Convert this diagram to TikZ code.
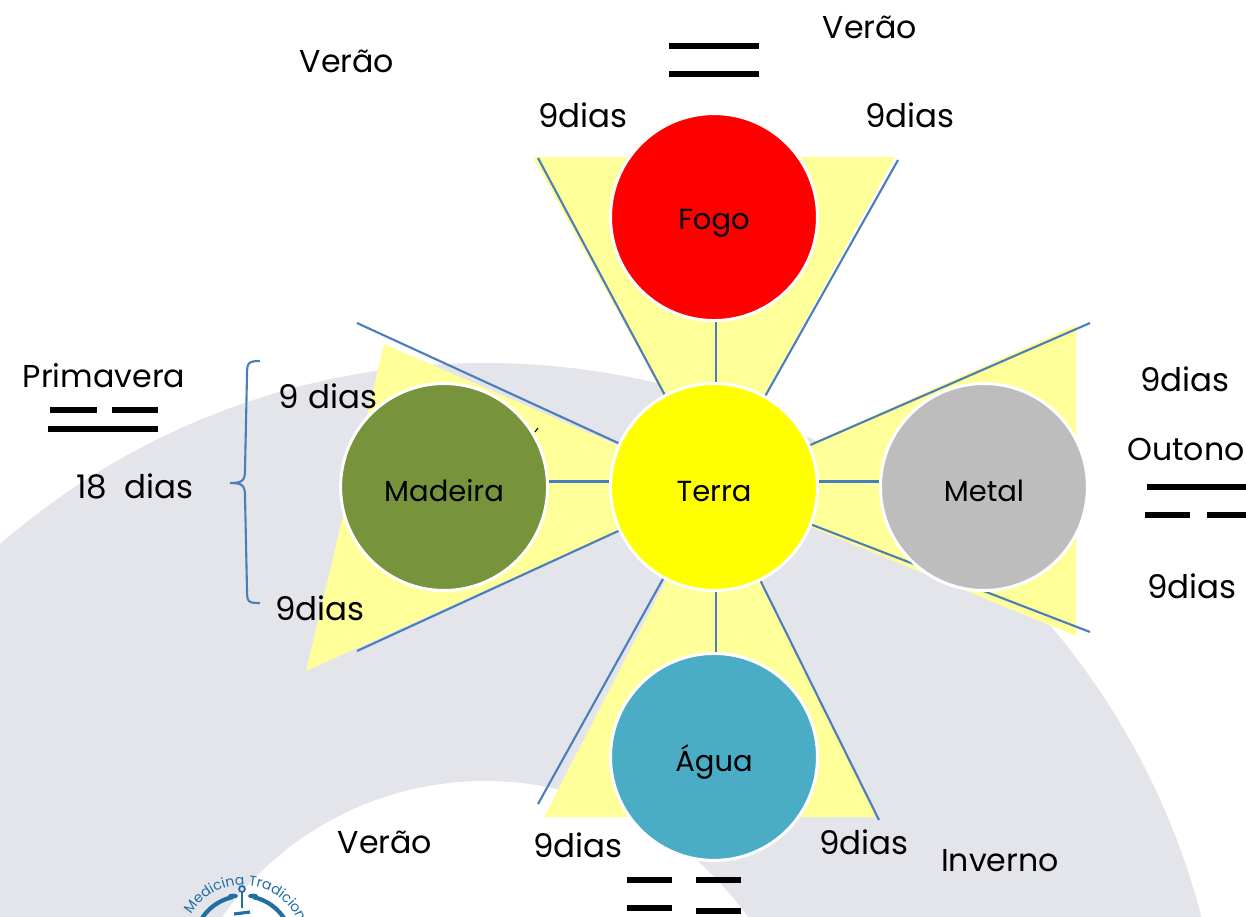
\documentclass[tikz,border=0pt]{standalone}
\usepackage{fontspec}
\setmainfont{Poppins}
\usetikzlibrary{arrows, positioning, backgrounds, decorations.text}
\definecolor{bandgrey}{HTML}{E4E5EB}
\definecolor{paleyellow}{HTML}{FFFF99}
\definecolor{earthyellow}{HTML}{FFFF00}
\definecolor{firered}{HTML}{FF0000}
\definecolor{spokeblue}{HTML}{4A7EBB}
\definecolor{logoblue}{HTML}{1F6FA3}
\definecolor{woodgreen}{HTML}{77933C}
\definecolor{metalgrey}{HTML}{BDBDBD}
\definecolor{waterblue}{HTML}{4BACC6}
\newcommand{\elemsize}{4.14cm}
\tikzstyle{element} = [% element circle
  circle,
  minimum size=\elemsize,
  inner sep=0pt,
  text centered,
  text height=17pt,
  text depth=0pt,
  draw=white,
  line width=1.7pt,
  font=\fontsize{16.5}{16.5}\selectfont
  ]
\tikzstyle{season} = [% name of a season
  inner sep=0pt,
  text centered,
  font=\fontsize{18}{18}\selectfont
  ]
\tikzstyle{days} = [% number of days
  inner sep=0pt,
  text centered,
  font=\fontsize{18.5}{18.5}\selectfont
  ]
\tikzstyle{spoke} = [% blue line
  spokeblue,
  line width=1.2pt
  ]
\tikzstyle{bar} = [% line of a trigram
  black,
  line width=3.4pt
  ]

\begin{document}
\begin{tikzpicture}[x=0.02cm, y=0.02cm, node distance=1.2cm]
\useasboundingbox (0,0) rectangle (1246,-916);

%%% Circles
\node[element, fill=earthyellow] (terra) at (714,-487) {Terra};
\node[element, fill=firered, text height=14pt] (fogo) [above=of terra] {Fogo};
\node[element, fill=woodgreen] (madeira) [left=of terra] {Madeira};
\node[element, fill=metalgrey] (metal) [right=of terra] {Metal};
\node[element, fill=waterblue] (agua) [below=of terra] {Água};

%%% Free ends of the blue lines
\coordinate (fogoL) at (538,-158);
\coordinate (fogoR) at (898,-160);
\coordinate (madeiraT) at (357,-323);
\coordinate (madeiraB) at (357,-651);
\coordinate (metalT) at (1090,-323);
\coordinate (metalB) at (1090,-632);
\coordinate (aguaL) at (538,-804);
\coordinate (aguaR) at (879,-820);

%%% Background
\begin{scope}[on background layer]
  \clip (0,0) rectangle (1246,-916);
  \fill[bandgrey, even odd rule] (485,-1103) circle [radius=740] (485,-1103) circle [radius=322];
  \fill[paleyellow] (terra.center) -- (533,-157) -- (895,-157) -- cycle;
  \fill[paleyellow] (terra.center) -- (384,-344) -- (306,-671) -- cycle;
  \fill[paleyellow] (terra.center) -- (1076,-325) -- (1076,-636) -- cycle;
  \fill[paleyellow] (terra.center) -- (544,-817) -- (877,-817) -- cycle;
  \foreach \spokeend in {fogoL, fogoR, madeiraT, madeiraB, metalT, metalB, aguaL, aguaR}
    \draw[spoke] (terra) -- (\spokeend);
\end{scope}

%%% Short lines between the circles
\draw[spoke] (fogo.-89) -- (terra.89);
\draw[spoke] (agua.89) -- (terra.-89);
\draw[spoke] (madeira.3) -- (terra.177);
\draw[spoke] (metal.177) -- (terra.3);

%%% Labels
\node[season] (veraoA) at (347,-61) {Verão};
\node[season] (veraoB) at (870,-27) {Verão};
\node[season] (veraoC) at (385,-842) {Verão};
\node[season] (inverno) at (1000,-861) {Inverno};
\node[season] (primavera) at (104,-376) {Primavera};
\node[season] (outono) at (1186,-449) {Outono};
\node[days] (total) at (135,-486) {18\hspace{.55em}dias};
\node[days] (diasA) at (583,-115) {9dias};
\node[days] (diasB) at (910,-115) {9dias};
\node[days] (diasC) at (328,-396) {9 dias};
\node[days] (diasD) at (320,-608) {9dias};
\node[days] (diasE) at (1185,-379) {9dias};
\node[days] (diasF) at (1192,-586) {9dias};
\node[days] (diasG) at (578,-845) {9dias};
\node[days] (diasH) at (864,-842) {9dias};

%%% Trigrams
\foreach \xa/\xb/\yy in {669/759/46, 669/759/74, 50/97/410, 112/158/410, 48/158/429,
    1147/1246/487, 1145/1190/515, 1207/1246/515,
    627/672/880, 696/741/880, 627/672/908, 696/741/911}
  \draw[bar] (\xa,-\yy) -- (\xb,-\yy);

%%% Brace and tick
\draw[spoke] (260,-361) .. controls (248,-361) and (247,-363) .. (247,-375)
  -- (245,-470) .. controls (245,-481) and (242,-483) .. (230,-483)
  .. controls (242,-483) and (245,-485) .. (245,-496)
  -- (247,-590) .. controls (247,-602) and (248,-603) .. (260,-603);
\draw[black, line width=0.6pt] (535,-432) -- (538,-428);

%%% Logo
\begin{scope}
  \clip (0,0) rectangle (1246,-916);
  \path[decorate, decoration={text along path, text align=center,
    text={|\fontsize{8}{8}\selectfont\color{logoblue}|Medicina Tradicional}}]
    (243,-945) ++(170:60) arc [start angle=170, end angle=-10, radius=60];
  \draw[logoblue, line width=2.4pt] (243,-945) ++(160:49) arc [start angle=160, end angle=102, radius=49];
  \draw[logoblue, line width=2.4pt] (243,-945) ++(20:49) arc [start angle=20, end angle=78, radius=49];
  \fill[logoblue] (233,-896) ellipse [x radius=5, y radius=2.5];
  \fill[logoblue] (253,-896) ellipse [x radius=5, y radius=2.5];
  \draw[logoblue, line width=1pt] (242,-889) circle [radius=3];
  \draw[logoblue, line width=1.2pt] (242,-892) -- (242,-908);
  \draw[logoblue, line width=1.8pt] (234,-914) -- (250,-912);
\end{scope}

\end{tikzpicture}
\end{document}
